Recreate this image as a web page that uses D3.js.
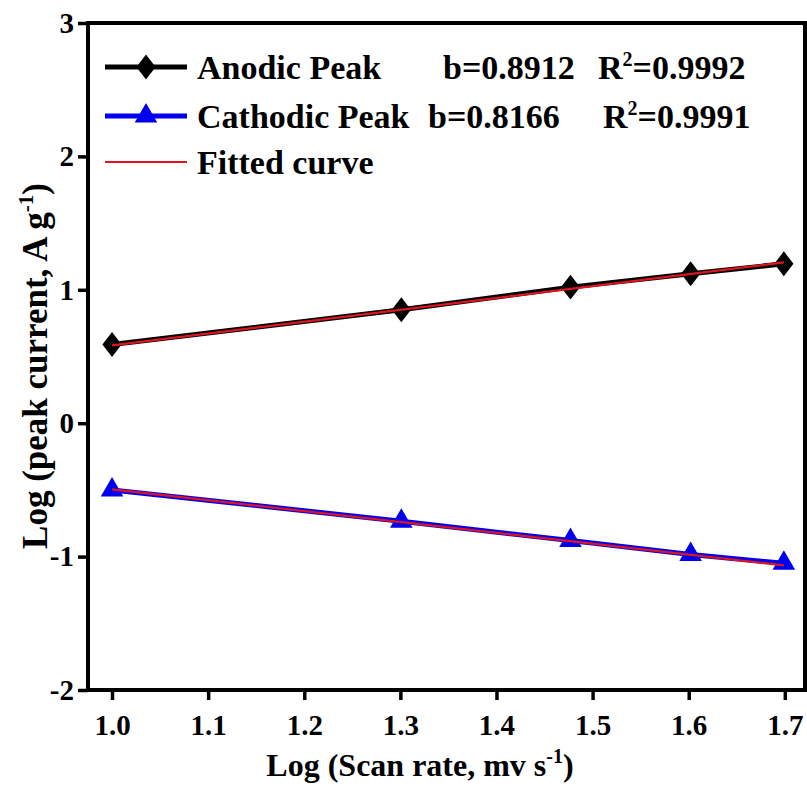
<!DOCTYPE html>
<html>
<head>
<meta charset="utf-8">
<script src="https://cdn.jsdelivr.net/npm/d3@7"></script>
<style>
  body { margin: 0; background: #fff; }
  text { font-family: "Liberation Serif", "Times New Roman", serif; font-weight: bold; }
</style>
</head>
<body>
<div id="chart"></div>
<script>
'use strict';

// data
const scanRate = [1.0, 1.301, 1.477, 1.602, 1.699];
const anodic = [0.59, 0.85, 1.02, 1.12, 1.195];
const cathodic = [-0.50, -0.735, -0.88, -0.985, -1.05];
const fitX = [1.0, 1.699];
const anodicFit = [0.583, 1.205];
const cathodicFit = [-0.496, -1.066];
const xTicks = [1.0, 1.1, 1.2, 1.3, 1.4, 1.5, 1.6, 1.7];
const yTicks = [-2, -1, 0, 1, 2, 3];

const width = 807, height = 787;
const margin = {top: 23, right: 2, bottom: 97, left: 88};

const svg = d3.select('#chart').append('svg')
  .attr('width', width)
  .attr('height', height);

const x = d3.scaleLinear()
  .domain([0.975, 1.721])
  .range([margin.left, width - margin.right]);

const y = d3.scaleLinear()
  .domain([-2, 3])
  .range([height - margin.bottom, margin.top]);

// diamond a bit flatter than d3's own
const diamond = {
  draw(context, size) {
    const w = Math.sqrt(size / 1.3) / 2;
    const h = w * 1.3;
    context.moveTo(0, -h);
    context.lineTo(w, 0);
    context.lineTo(0, h);
    context.lineTo(-w, 0);
    context.closePath();
  }
};

// axes
const xAxis = svg.append('g')
  .attr('transform', `translate(0, ${height - margin.bottom})`)
  .call(d3.axisBottom(x).tickValues(xTicks).tickFormat(d3.format('.1f')).tickSize(10).tickPadding(14));

const yAxis = svg.append('g')
  .attr('transform', `translate(${margin.left}, 0)`)
  .call(d3.axisLeft(y).tickValues(yTicks).tickFormat((d) => String(d)).tickSize(10).tickPadding(4));

[xAxis, yAxis].forEach((ax) => {
  ax.attr('font-family', null).attr('font-size', null);
  ax.select('.domain').remove();
  ax.selectAll('.tick line').attr('stroke', '#000').attr('stroke-width', 3.5);
  ax.selectAll('.tick text')
    .attr('fill', '#000')
    .style('font-size', '29px');
});

// frame
svg.append('rect')
  .attr('x', margin.left)
  .attr('y', margin.top)
  .attr('width', width - margin.left - margin.right)
  .attr('height', height - margin.top - margin.bottom)
  .attr('fill', 'none')
  .attr('stroke', '#000')
  .attr('stroke-width', 4);

// axis titles
const xTitle = svg.append('text')
  .attr('x', 420)
  .attr('y', 776)
  .attr('text-anchor', 'middle')
  .style('font-size', '32px');
xTitle.append('tspan').text('Log (Scan rate, mv s');
xTitle.append('tspan').attr('dy', -13).style('font-size', '20px').text('-1');
xTitle.append('tspan').attr('dy', 13).text(')');

const yTitle = svg.append('text')
  .attr('transform', 'translate(47, 366) rotate(-90)')
  .attr('text-anchor', 'middle')
  .style('font-size', '35px');
yTitle.append('tspan').text('Log (peak current, A g');
yTitle.append('tspan').attr('dy', -14).style('font-size', '21px').text('-1');
yTitle.append('tspan').attr('dy', 14).text(')');

// series
const line = d3.line().x((d) => x(d[0])).y((d) => y(d[1]));

const series = [
  {values: anodic, fit: anodicFit, color: '#000', symbol: diamond, size: 480},
  {values: cathodic, fit: cathodicFit, color: '#0000ee', symbol: d3.symbolTriangle, size: 220}
];

series.forEach((s) => {
  const pts = scanRate.map((v, i) => [v, s.values[i]]);
  svg.append('path')
    .attr('d', line(pts))
    .attr('fill', 'none')
    .attr('stroke', s.color)
    .attr('stroke-width', 5);

  svg.selectAll(null)
    .data(pts)
    .enter().append('path')
      .attr('d', d3.symbol().type(s.symbol).size(s.size))
      .attr('transform', (d) => `translate(${x(d[0])}, ${y(d[1])})`)
      .attr('fill', s.color);
});

series.forEach((s) => {
  svg.append('path')
    .attr('d', line(fitX.map((v, i) => [v, s.fit[i]])))
    .attr('fill', 'none')
    .attr('stroke', '#e0141e')
    .attr('stroke-width', 2.2);
});

// legend
const legend = svg.append('g').attr('class', 'legend');
const legendRows = [
  {label: 'Anodic Peak', b: 'b=0.8912', r: '=0.9992', bx: 443, rx: 598, color: '#000', symbol: diamond, size: 480, y: 67},
  {label: 'Cathodic Peak', b: 'b=0.8166', r: '=0.9991', bx: 428, rx: 603, color: '#0000ee', symbol: d3.symbolTriangle, size: 220, y: 116},
  {label: 'Fitted curve', color: '#e0141e', y: 162}
];

legendRows.forEach((row) => {
  const isFit = !row.symbol;
  legend.append('line')
    .attr('x1', 105).attr('x2', 187)
    .attr('y1', row.y).attr('y2', row.y)
    .attr('stroke', row.color)
    .attr('stroke-width', isFit ? 2.2 : 5);
  if (!isFit) {
    legend.append('path')
      .attr('d', d3.symbol().type(row.symbol).size(row.size))
      .attr('transform', `translate(146, ${row.y})`)
      .attr('fill', row.color);
  }
  legend.append('text')
    .attr('x', 197).attr('y', row.y + 12)
    .style('font-size', '34px')
    .text(row.label);
  if (!isFit) {
    legend.append('text')
      .attr('x', row.bx).attr('y', row.y + 12)
      .style('font-size', '34px')
      .text(row.b);
    const rt = legend.append('text')
      .attr('x', row.rx).attr('y', row.y + 12)
      .style('font-size', '34px');
    rt.append('tspan').text('R');
    rt.append('tspan').attr('dy', -13).style('font-size', '20px').text('2');
    rt.append('tspan').attr('dy', 13).text(row.r);
  }
});
</script>
</body>
</html>
